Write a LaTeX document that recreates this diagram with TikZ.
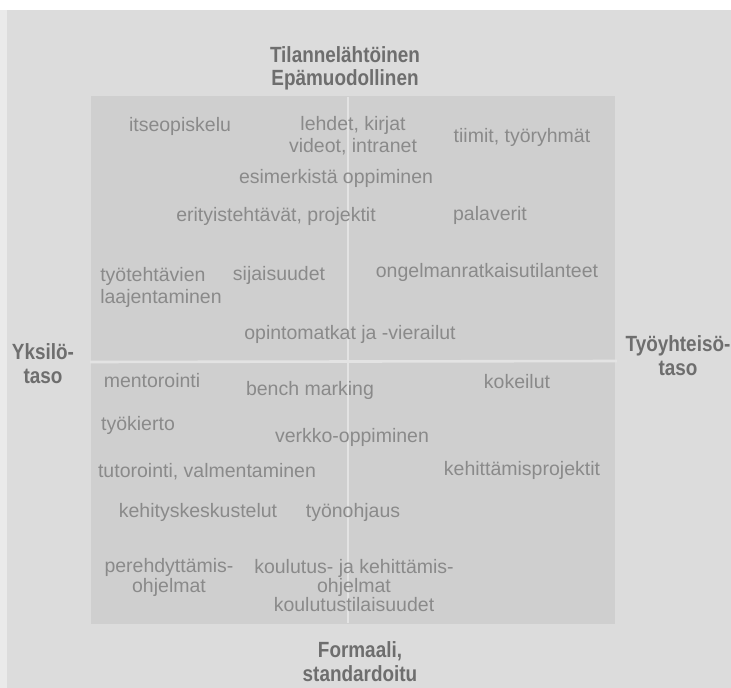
\documentclass[tikz,border=0pt]{standalone}
\usepackage{fontspec}
\setmainfont{Liberation Sans}
\newfontfamily\labelfont[FakeStretch=0.86]{Liberation Sans}
\definecolor{paper}{HTML}{DCDCDC}
\definecolor{field}{HTML}{CFCFCF}
\definecolor{divider}{HTML}{E3E3E3}
\definecolor{itemgray}{HTML}{8A8A8A}
\definecolor{axisgray}{HTML}{6E6E6E}
\tikzset{
  item/.style={text=itemgray, inner sep=0pt, anchor=base, align=center,
    font=\fontsize{19.5}{21.5}\selectfont},
  axis/.style={text=axisgray, inner sep=0pt, anchor=base, align=center,
    font=\labelfont\bfseries\fontsize{22}{24}\selectfont},
  divline/.style={draw=divider, line width=2.6pt}
}
\begin{document}
\begin{tikzpicture}[x=1pt,y=-1pt]
  % page and background
  \useasboundingbox (0,0) rectangle (731,688);
  \fill[white] (0,0) rectangle (731,688);
  \fill[paper] (0,10) rectangle (731,688);
  \fill[paper!60!white] (0,10) rectangle (7,688);
  % the four-field square
  \fill[field] (91,96) rectangle (615,624);
  \coordinate (vtop) at (348,97);
  \coordinate (vbot) at (348,623);
  \coordinate (hleft) at (90,362);
  \coordinate (hright) at (617,361);
  \draw[divline] (vtop) -- (vbot);
  \draw[divline] (hleft) -- (hright);

  % axis labels (positions give the baseline of the last line)
  \node[axis] (top) at (345,85) {Tilannelähtöinen\\[-1pt]Epämuodollinen};
  \node[axis] (bottom) at (360,681) {Formaali,\\standardoitu};
  \node[axis] (left) at (43,383) {Yksilö-\\taso};
  \node[axis] (right) at (678,375) {Työyhteisö-\\taso};

  % upper half
  \node[item] (itse) at (180,131) {itseopiskelu};
  \node[item] (lehdet) at (353,152) {lehdet, kirjat\\videot, intranet};
  \node[item] (tiimit) at (522,142) {tiimit, työryhmät};
  \node[item] (esim) at (336,183) {esimerkistä oppiminen};
  \node[item] (erit) at (276,221) {erityistehtävät, projektit};
  \node[item] (pala) at (490,220) {palaverit};
  \node[item, align=left] (tyot) at (161,303) {työtehtävien\\laajentaminen};
  \node[item] (sijais) at (279,280) {sijaisuudet};
  \node[item] (ongel) at (487,277) {ongelmanratkaisutilanteet};
  \node[item] (opint) at (350,339) {opintomatkat ja -vierailut};

  % lower half
  \node[item] (mentor) at (152,387) {mentorointi};
  \node[item] (bench) at (310,395) {bench marking};
  \node[item] (kokeil) at (517,388) {kokeilut};
  \node[item] (kierto) at (138,430) {työkierto};
  \node[item] (verkko) at (352,442) {verkko-oppiminen};
  \node[item] (tutor) at (207,477) {tutorointi, valmentaminen};
  \node[item] (kehpro) at (522,475) {kehittämisprojektit};
  \node[item] (kehkes) at (198,517) {kehityskeskustelut};
  \node[item] (ohjaus) at (353,517) {työnohjaus};
  \node[item, font=\fontsize{19.5}{19.5}\selectfont] (pereh) at (169,592) {perehdyttämis-\\ohjelmat};
  \node[item, font=\fontsize{19.5}{19}\selectfont] (koul) at (354,611) {koulutus- ja kehittämis-\\ohjelmat\\koulutustilaisuudet};
\end{tikzpicture}
\end{document}
